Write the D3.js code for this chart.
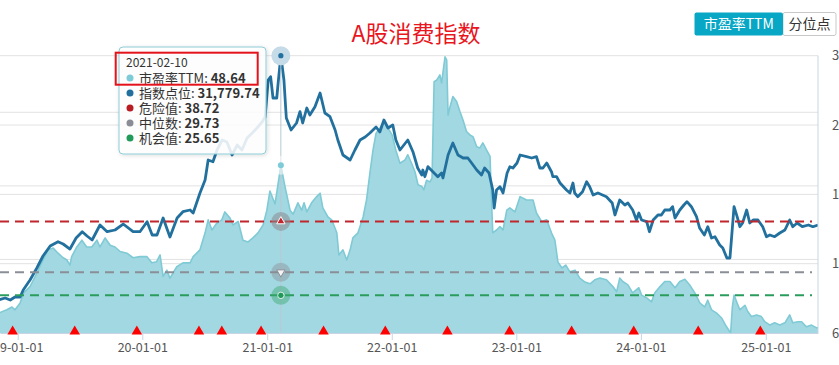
<!DOCTYPE html>
<html><head><meta charset="utf-8">
<script src="https://cdn.jsdelivr.net/npm/d3@7"></script>
<style>
html,body{margin:0;padding:0;background:#fff;overflow:hidden}
svg{display:block;font-family:"Noto Sans CJK SC","Noto Sans",sans-serif}
</style></head><body>
<svg id="c" width="839" height="365"></svg>
<script>
// ---------------- data ----------------
const title = "A股消费指数";
const buttons = ["市盈率TTM", "分位点"];
const peDates = ["2018-11-05","2018-11-30","2018-12-15","2018-12-24","2019-01-08","2019-01-18","2019-02-06","2019-02-26","2019-03-16","2019-03-31","2019-04-15","2019-04-29","2019-05-14","2019-05-25","2019-06-03","2019-06-08","2019-06-23","2019-07-08","2019-07-22","2019-08-06","2019-08-21","2019-08-30","2019-09-14","2019-09-29","2019-10-13","2019-10-28","2019-11-17","2019-12-05","2019-12-25","2020-01-14","2020-01-29","2020-02-12","2020-02-22","2020-03-02","2020-03-13","2020-03-22","2020-04-11","2020-04-29","2020-05-20","2020-05-29","2020-06-18","2020-07-03","2020-07-12","2020-07-23","2020-08-06","2020-08-21","2020-08-30","2020-09-14","2020-09-23","2020-10-08","2020-10-22","2020-11-06","2020-11-20","2020-12-05","2020-12-20","2020-12-31","2021-01-09","2021-01-24","2021-02-10","2021-02-22","2021-03-09","2021-03-18","2021-04-01","2021-04-12","2021-04-19","2021-04-27","2021-05-11","2021-05-26","2021-06-05","2021-06-13","2021-06-28","2021-07-09","2021-07-24","2021-07-30","2021-08-11","2021-08-22","2021-09-01","2021-09-09","2021-09-24","2021-10-09","2021-10-19","2021-10-29","2021-11-07","2021-11-16","2021-11-27","2021-12-09","2021-12-21","2022-01-02","2022-01-13","2022-01-25","2022-02-09","2022-02-17","2022-02-28","2022-03-10","2022-03-19","2022-03-30","2022-04-05","2022-04-13","2022-04-23","2022-04-29","2022-05-05","2022-05-13","2022-05-22","2022-05-27","2022-06-06","2022-06-11","2022-06-15","2022-06-20","2022-06-29","2022-07-10","2022-07-20","2022-07-29","2022-08-08","2022-08-18","2022-08-27","2022-09-07","2022-09-16","2022-09-25","2022-10-06","2022-10-16","2022-10-21","2022-10-24","2022-11-04","2022-11-14","2022-11-23","2022-12-04","2022-12-13","2022-12-28","2023-01-12","2023-01-31","2023-02-19","2023-03-01","2023-03-16","2023-03-31","2023-04-14","2023-04-24","2023-05-03","2023-05-15","2023-05-26","2023-06-07","2023-06-22","2023-07-06","2023-07-21","2023-08-05","2023-08-19","2023-09-03","2023-09-22","2023-10-11","2023-10-22","2023-10-31","2023-11-09","2023-11-24","2023-12-08","2023-12-26","2024-01-03","2024-01-18","2024-02-01","2024-02-11","2024-02-26","2024-03-11","2024-03-26","2024-04-10","2024-04-24","2024-05-09","2024-05-23","2024-06-07","2024-06-22","2024-07-06","2024-07-15","2024-07-26","2024-08-10","2024-08-24","2024-09-08","2024-09-20","2024-09-25","2024-09-30","2024-10-09","2024-10-17","2024-11-01","2024-11-09","2024-11-20","2024-12-05","2024-12-19","2024-12-29","2025-01-13","2025-01-27","2025-02-11","2025-02-26","2025-03-12","2025-03-21","2025-04-05","2025-04-16","2025-04-30","2025-05-15","2025-05-30","2025-06-05"];
const peValues = [22.5,23.1,23.6,23.1,24.3,26.1,27.2,29.6,31.9,33.7,34.0,33.1,32.3,31.9,31.0,32.5,34.2,35.4,34.2,34.2,35.4,34.2,35.8,34.5,34.2,33.4,33.1,32.3,32.5,32.5,31.4,31.6,32.8,29.0,30.1,28.7,30.7,31.4,31.4,32.5,33.7,36.7,39.0,37.2,38.4,39.0,40.4,39.3,38.1,38.7,35.4,35.1,35.8,36.7,38.1,40.7,44.1,41.8,48.64,44.9,40.7,40.0,42.0,40.7,42.0,40.4,42.0,43.1,43.7,41.1,39.5,39.0,36.7,32.8,33.7,31.9,33.7,35.8,36.7,39.5,42.5,47.3,51.3,54.3,55.2,56.3,55.2,54.0,51.3,49.0,49.6,50.5,49.0,47.5,45.2,44.9,44.3,46.0,45.7,46.4,63.4,63.7,64.6,63.2,67.8,67.2,57.5,58.8,60.8,59.9,58.1,56.6,54.6,54.0,53.7,51.9,51.7,52.6,51.3,50.2,41.3,36.7,37.2,37.8,37.2,40.7,41.1,40.4,43.1,42.5,42.5,40.2,38.7,39.0,36.7,35.4,31.5,30.5,31.0,29.8,30.1,28.7,28.0,27.7,28.4,28.7,28.4,27.2,26.3,28.7,28.1,27.5,26.1,27.0,25.7,25.2,24.5,26.1,27.2,28.1,28.1,27.0,28.1,28.5,27.5,26.1,24.3,23.6,24.8,23.1,22.5,21.7,20.1,19.0,23.6,25.7,24.3,23.1,23.9,22.8,21.9,22.2,21.9,21.0,20.4,20.8,20.4,20.8,22.2,20.8,21.0,21.0,20.1,20.4,19.9,19.9];
const idxDates = ["2018-11-05","2018-11-25","2018-12-10","2018-12-24","2019-01-08","2019-01-17","2019-02-06","2019-02-26","2019-03-16","2019-04-06","2019-04-29","2019-05-14","2019-06-03","2019-06-21","2019-07-09","2019-07-23","2019-08-07","2019-08-30","2019-09-20","2019-10-13","2019-11-06","2019-12-05","2019-12-25","2020-01-15","2020-01-30","2020-02-13","2020-03-02","2020-03-22","2020-04-12","2020-04-29","2020-05-20","2020-05-29","2020-06-18","2020-07-03","2020-07-12","2020-07-26","2020-08-07","2020-08-22","2020-09-05","2020-09-20","2020-10-05","2020-10-19","2020-11-03","2020-11-18","2020-12-02","2020-12-17","2020-12-26","2021-01-04","2021-01-11","2021-01-18","2021-01-29","2021-02-02","2021-02-10","2021-02-19","2021-02-26","2021-03-12","2021-03-28","2021-04-07","2021-04-15","2021-04-27","2021-05-06","2021-05-21","2021-06-05","2021-06-19","2021-07-04","2021-07-19","2021-07-27","2021-08-11","2021-09-01","2021-09-15","2021-09-30","2021-10-15","2021-10-29","2021-11-16","2021-11-27","2021-12-09","2021-12-21","2022-01-04","2022-01-13","2022-01-25","2022-02-17","2022-03-04","2022-03-18","2022-03-30","2022-04-02","2022-04-08","2022-04-17","2022-05-05","2022-05-16","2022-05-27","2022-05-31","2022-06-15","2022-06-29","2022-07-14","2022-07-29","2022-08-12","2022-08-23","2022-09-07","2022-09-21","2022-09-30","2022-10-13","2022-10-24","2022-10-28","2022-11-04","2022-11-14","2022-11-23","2022-12-05","2022-12-13","2022-12-22","2023-01-03","2023-01-12","2023-01-31","2023-02-15","2023-03-01","2023-03-11","2023-03-20","2023-03-31","2023-04-14","2023-04-18","2023-04-29","2023-05-09","2023-05-28","2023-06-07","2023-06-16","2023-06-21","2023-06-30","2023-07-14","2023-07-26","2023-08-04","2023-08-14","2023-08-28","2023-09-04","2023-09-22","2023-10-09","2023-10-17","2023-10-31","2023-11-15","2023-11-24","2023-12-08","2023-12-19","2023-12-26","2024-01-03","2024-01-18","2024-01-26","2024-02-06","2024-02-20","2024-03-01","2024-03-11","2024-03-26","2024-04-03","2024-04-10","2024-04-24","2024-05-06","2024-05-15","2024-05-28","2024-06-12","2024-06-21","2024-07-05","2024-07-15","2024-07-26","2024-08-05","2024-08-19","2024-08-28","2024-09-09","2024-09-18","2024-09-30","2024-10-09","2024-10-17","2024-10-25","2024-11-06","2024-11-15","2024-11-25","2024-12-09","2024-12-23","2025-01-03","2025-01-13","2025-01-27","2025-02-11","2025-02-26","2025-03-12","2025-03-21","2025-04-03","2025-04-18","2025-05-06","2025-05-19","2025-06-03"];
const idxValues = [9332,9516,9332,9608,9608,10251,11170,12273,13375,14294,14689,14478,14018,15029,15608,15213,14845,16224,15608,15764,16315,15608,15608,16527,15305,15305,16867,15121,16867,17446,17602,17326,19164,20358,22196,22040,23115,24034,23850,22655,23574,23115,24218,24677,25136,25688,26147,29547,29850,27893,27893,29271,31779.74,29547,26055,24953,25596,26634,25596,26974,26331,27094,28352,26515,26175,24953,24034,22655,22196,23115,24034,24309,24677,25228,24769,25872,25136,25412,24034,23115,24034,22959,21461,20818,21277,20662,21581,21002,20662,21002,20542,22655,23758,22655,22380,22380,21920,21277,20818,21461,21002,19440,17786,19440,19743,19164,21002,21581,21461,21920,22655,22499,22380,22499,21461,21461,21920,21121,20662,20662,20083,19440,19164,20083,19164,18824,19283,20202,19743,18980,19164,19072,18824,18245,17142,18521,18061,18245,17602,16683,17326,16683,16527,15608,16683,17142,17142,17602,17602,17905,16867,17602,18061,18365,17905,16986,15948,15305,16067,15029,15149,14386,14110,13191,13191,17905,16986,16067,16407,17602,16407,16683,16683,16067,15149,15305,15149,15488,15764,16683,16067,16407,16067,16224,16067,16224];
const eventDates = ["2018-12-17","2019-06-17","2019-12-16","2020-06-15","2020-08-21","2020-12-14","2021-06-15","2021-12-13","2022-06-13","2022-12-12","2023-06-12","2023-12-11","2024-06-17","2024-12-16"];
const yearTicks = ["2019-01-01","2020-01-01","2021-01-01","2022-01-01","2023-01-01","2024-01-01","2025-01-01"];
const xDomain = ["2018-11-10","2025-06-03"];
const peDomain = [19, 68];
const peGridTicks = [32, 45, 58];
const idxDomain = [6300, 31779.74];
const idxTicks = [6300, 12670, 19040, 25410, 31779.74];
const dangerValue = 38.72, medianValue = 29.73, chanceValue = 25.65;
const tipDate = "2021-02-10";
const tipLabels = ["市盈率TTM", "指数点位", "危险值", "中位数", "机会值"];
const tipValues = [48.64, 31779.74, 38.72, 29.73, 25.65];
const tipColors = ["#7ccbd6", "#226f9e", "#b81c22", "#8a8d96", "#1f9a5a"];

// ---------------- layout ----------------
const L = 0, R = 818, T = 55.7, B = 333;
const parse = d3.utcParse("%Y-%m-%d");
const svg = d3.select("#c");
const x = d3.scaleUtc().domain(xDomain.map(parse)).range([L, R]);
const yPE = d3.scaleLinear().domain(peDomain).range([B, T]);
const yIdx = d3.scaleLinear().domain(idxDomain).range([B, T]);

const pe = peDates.map((d, i) => ({date: parse(d), v: peValues[i]}));
const idx = idxDates.map((d, i) => ({date: parse(d), v: idxValues[i]}));

const defs = svg.append("defs");
defs.append("clipPath").attr("id", "clip").append("rect")
  .attr("x", L).attr("y", T - 10).attr("width", R - L).attr("height", B - T + 10);
const f = defs.append("filter").attr("id", "sh").attr("x", "-10%").attr("y", "-10%").attr("width", "130%").attr("height", "130%");
f.append("feDropShadow").attr("dx", 1).attr("dy", 1).attr("stdDeviation", 2).attr("flood-color", "#000").attr("flood-opacity", 0.15);

// grid
const grid = svg.append("g");
grid.selectAll("line.gi").data(idxTicks).join("line")
  .attr("x1", L).attr("x2", R).attr("y1", d => yIdx(d)).attr("y2", d => yIdx(d))
  .attr("stroke", "#e2e2e2").attr("stroke-width", 1);
grid.selectAll("line.gp").data(peGridTicks).join("line")
  .attr("x1", L).attr("x2", R).attr("y1", d => yPE(d)).attr("y2", d => yPE(d))
  .attr("stroke", "#e2e2e2").attr("stroke-width", 1);

const plot = svg.append("g").attr("clip-path", "url(#clip)");

// PE area
plot.append("path").datum(pe)
  .attr("d", d3.area().x(d => x(d.date)).y0(B).y1(d => yPE(d.v)))
  .attr("fill", "#a2d8e1");
plot.append("path").datum(pe)
  .attr("d", d3.line().x(d => x(d.date)).y(d => yPE(d.v)))
  .attr("fill", "none").attr("stroke", "#7fcad5").attr("stroke-width", 1.6).attr("stroke-linejoin", "round");

// threshold dashed lines
const thr = [{v: dangerValue, c: "#c0262c"}, {v: medianValue, c: "#8a8e97"}, {v: chanceValue, c: "#2a9c5c"}];
svg.selectAll("line.thr").data(thr).join("line")
  .attr("x1", L).attr("x2", 812).attr("y1", d => yPE(d.v)).attr("y2", d => yPE(d.v))
  .attr("stroke", d => d.c).attr("stroke-width", 2).attr("stroke-dasharray", "9,6");

// index line
plot.append("path").datum(idx)
  .attr("d", d3.line().x(d => x(d.date)).y(d => yIdx(d.v)))
  .attr("fill", "none").attr("stroke", "#22709e").attr("stroke-width", 2.8).attr("stroke-linejoin", "round");

// x axis
const xa = svg.append("g").attr("transform", `translate(0,${B})`)
  .call(d3.axisBottom(x).tickValues(yearTicks.map(parse)).tickFormat(d3.utcFormat("%y-%m-%d")).tickSize(7).tickSizeOuter(0).tickPadding(3));
xa.select(".domain").attr("stroke", "#c9d5e4");
xa.selectAll(".tick line").attr("stroke", "#c9d5e4");
xa.selectAll("text").attr("fill", "#555").style("font-size", "12.5px").style("font-family", "'Noto Sans CJK SC', sans-serif");

// right border + right axis
svg.append("line").attr("x1", R).attr("x2", R).attr("y1", T).attr("y2", B).attr("stroke", "#c9d5e4");
const ya = svg.append("g").attr("transform", `translate(${R},0)`)
  .call(d3.axisRight(yIdx).tickValues(idxTicks).tickSize(0).tickPadding(14).tickFormat(d3.format("d")));
ya.select(".domain").remove();
ya.selectAll("text").attr("fill", "#555").style("font-size", "13px").style("font-family", "'Noto Sans CJK SC', sans-serif");

// event triangles
svg.selectAll("path.ev").data(eventDates).join("path")
  .attr("d", d3.symbol().type(d3.symbolTriangle).size(48))
  .attr("transform", d => `translate(${x(parse(d))},${B - 1.5})`)
  .attr("fill", "#ff0000");

// crosshair
const cx = x(parse(tipDate));
svg.append("line").attr("x1", cx).attr("x2", cx).attr("y1", T).attr("y2", B)
  .attr("stroke", "#b7c7d3").attr("stroke-width", 1);

// hover markers
const mk = svg.append("g");
mk.append("circle").attr("cx", cx).attr("cy", yIdx(tipValues[1])).attr("r", 9.5).attr("fill", "#c6dbe8");
mk.append("circle").attr("cx", cx).attr("cy", yIdx(tipValues[1])).attr("r", 2.6).attr("fill", "#22709e");
mk.append("circle").attr("cx", cx).attr("cy", yPE(tipValues[0])).attr("r", 9.5).attr("fill", "#ffffff").attr("fill-opacity", 0.55);
mk.append("circle").attr("cx", cx).attr("cy", yPE(tipValues[0])).attr("r", 3).attr("fill", "#7ccbd6");
mk.append("circle").attr("cx", cx).attr("cy", yPE(dangerValue)).attr("r", 9.5).attr("fill", "#8a8a90").attr("fill-opacity", 0.55);
mk.append("path").attr("d", d3.symbol().type(d3.symbolTriangle).size(30))
  .attr("transform", `translate(${cx},${yPE(dangerValue)})`).attr("fill", "#c0262c").attr("stroke", "#fff").attr("stroke-width", 1);
mk.append("circle").attr("cx", cx).attr("cy", yPE(medianValue)).attr("r", 9.5).attr("fill", "#8a8a90").attr("fill-opacity", 0.4);
mk.append("path").attr("d", d3.symbol().type(d3.symbolTriangle).size(30))
  .attr("transform", `translate(${cx},${yPE(medianValue)}) rotate(180)`).attr("fill", "#f4f4f4").attr("stroke", "#8a8e97").attr("stroke-width", 1);
mk.append("circle").attr("cx", cx).attr("cy", yPE(chanceValue)).attr("r", 9.5).attr("fill", "#3aa870").attr("fill-opacity", 0.45);
mk.append("circle").attr("cx", cx).attr("cy", yPE(chanceValue)).attr("r", 3.2).attr("fill", "#1f9a5a").attr("stroke", "#fff").attr("stroke-width", 0.8);

// title
svg.append("text").attr("x", 416).attr("y", 42).attr("text-anchor", "middle")
  .attr("fill", "#e8161e").style("font-size", "23px").text(title);

// buttons
const bw = [88.5, 53];
const bg = svg.append("g").attr("transform", "translate(694.5,12.5)");
bg.append("rect").attr("x", bw[0]).attr("y", 0).attr("width", bw[1]).attr("height", 23)
  .attr("fill", "#fff").attr("stroke", "#c9c9c9").attr("rx", 2);
bg.append("rect").attr("x", 0).attr("y", 0).attr("width", bw[0]).attr("height", 23)
  .attr("fill", "#08a7c5").attr("rx", 2);
bg.append("text").attr("x", bw[0] / 2).attr("y", 16.5).attr("text-anchor", "middle")
  .attr("fill", "#fff").style("font-size", "14px").text(buttons[0]);
bg.append("text").attr("x", bw[0] + bw[1] / 2).attr("y", 16.5).attr("text-anchor", "middle")
  .attr("fill", "#333").style("font-size", "14px").text(buttons[1]);

// tooltip
const tip = svg.append("g");
tip.append("rect").attr("x", 119).attr("y", 47).attr("width", 147).attr("height", 107).attr("rx", 4)
  .attr("fill", "#fff").attr("fill-opacity", 0.86).attr("stroke", "#8ccdd7").attr("stroke-width", 1)
  .attr("filter", "url(#sh)");
tip.append("text").attr("x", 126).attr("y", 67).attr("fill", "#333").style("font-size", "12px").text(tipDate);
const fmt = [d3.format(".2f"), d3.format(",.2f"), d3.format(".2f"), d3.format(".2f"), d3.format(".2f")];
tipLabels.forEach((lab, i) => {
  const cy = 78 + i * 15;
  tip.append("circle").attr("cx", 130).attr("cy", cy).attr("r", 3.5).attr("fill", tipColors[i]);
  const t = tip.append("text").attr("x", 139).attr("y", cy + 4.6).attr("fill", "#333").style("font-size", "13px");
  t.append("tspan").text(lab + ": ");
  t.append("tspan").attr("font-weight", "bold").text(fmt[i](tipValues[i]));
});

// highlight annotation box
svg.append("rect").attr("x", 115.7).attr("y", 52.7).attr("width", 142).attr("height", 32)
  .attr("fill", "none").attr("stroke", "#e4131b").attr("stroke-width", 2);
</script>
</body></html>
